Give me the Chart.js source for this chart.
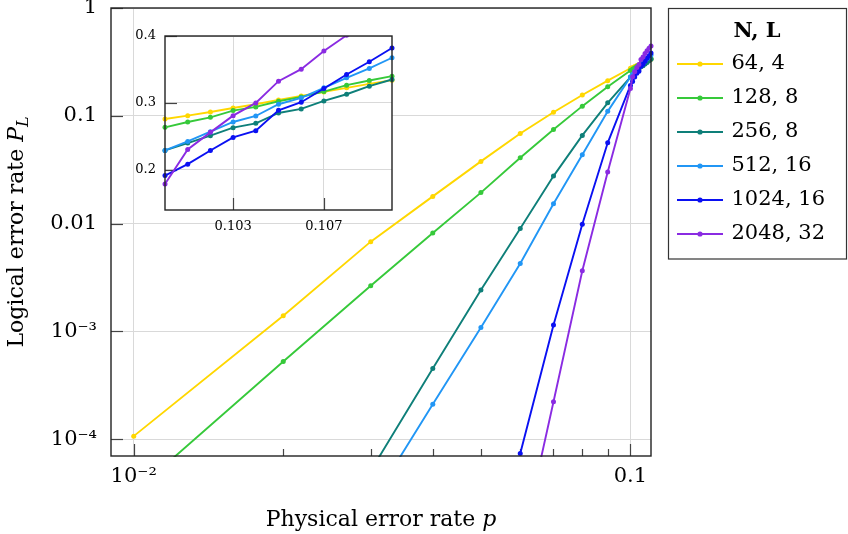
<!DOCTYPE html>
<html>
<head>
<meta charset="utf-8">
<script src="https://cdn.jsdelivr.net/npm/chart.js@4.4.1/dist/chart.umd.min.js"></script>
<style>
html,body{margin:0;padding:0;background:#fff;}
#wrap{position:relative;width:848px;height:534px;overflow:hidden;}
#main{position:absolute;left:0;top:0;}
#inset{position:absolute;left:120px;top:20px;}
</style>
</head>
<body>
<div id="wrap">
<canvas id="main" width="848" height="534"></canvas>
<canvas id="inset" width="290" height="225"></canvas>
</div>
<script>
// ---------------- DATA ----------------
const pValues = [0.01, 0.02, 0.03, 0.04, 0.05, 0.06, 0.07, 0.08, 0.09,
  0.100, 0.101, 0.102, 0.103, 0.104, 0.105, 0.106, 0.107, 0.108, 0.109, 0.110];

const seriesLabels = ['64, 4', '128, 8', '256, 8', '512, 16', '1024, 16', '2048, 32'];

const pl_64_4 = [1.07e-4, 1.40e-3, 6.81e-3, 0.0179, 0.0378, 0.0686, 0.108, 0.156, 0.212,
  0.276, 0.281, 0.2865, 0.2925, 0.298, 0.3045, 0.3105, 0.3165, 0.3225, 0.3285, 0.334];
const pl_128_8 = [3.2e-5, 5.27e-4, 2.65e-3, 8.2e-3, 0.0194, 0.0408, 0.0747, 0.123, 0.186,
  0.2635, 0.2715, 0.2785, 0.2885, 0.294, 0.3025, 0.309, 0.317, 0.3265, 0.3335, 0.340];
const pl_256_8 = [null, null, 5.1e-5, 4.54e-4, 2.43e-3, 9.0e-3, 0.0276, 0.0658, 0.132,
  0.229, 0.240, 0.251, 0.263, 0.2695, 0.285, 0.291, 0.303, 0.313, 0.325, 0.335];
const pl_512_16 = [null, null, 2.5e-5, 2.11e-4, 1.09e-3, 4.27e-3, 0.0153, 0.0435, 0.110,
  0.229, 0.2425, 0.257, 0.2715, 0.2805, 0.298, 0.3075, 0.3225, 0.3375, 0.3515, 0.3675];
const pl_1024_16 = [null, null, null, null, null, 7.4e-5, 1.15e-3, 9.86e-3, 0.0562,
  0.1915, 0.2085, 0.229, 0.2485, 0.2585, 0.289, 0.301, 0.3215, 0.3425, 0.3615, 0.382];
const pl_2048_32 = [null, null, null, null, null, 9e-6, 2.23e-4, 3.65e-3, 0.0301,
  0.179, 0.2305, 0.256, 0.281, 0.300, 0.3325, 0.3505, 0.3775, 0.401, 0.423, 0.445];

const xMajorTicks = [0.01, 0.1];
const xTickLabels = ['10\u207B\u00B2', '0.1'];
const xMinorTicks = [0.02, 0.03, 0.04, 0.05, 0.06, 0.07, 0.08, 0.09];
const yMajorTicks = [1e-4, 1e-3, 0.01, 0.1, 1];
const yTickLabels = ['10\u207B\u2074', '10\u207B\u00B3', '0.01', '0.1', '1'];

const insetXTicks = [0.103, 0.107];
const insetXLabels = ['0.103', '0.107'];
const insetYTicks = [0.2, 0.3, 0.4];
const insetYLabels = ['0.2', '0.3', '0.4'];
const insetStart = 9; // inset shows p = 0.100 ... 0.110

const legendTitle = 'N, L';
const xTitleParts = [{t: 'Physical error rate ', it: false}, {t: 'p', it: true}];
const yTitleParts = [{t: 'Logical error rate ', it: false}, {t: 'P', it: true}, {t: 'L', it: true, sub: true}];

// ---------------- STYLE ----------------
const SERIF = '"DejaVu Serif", "Liberation Serif", serif';
const seriesColors = ['#FFD700', '#36C93A', '#0E7F79', '#2196F5', '#0A10F2', '#8A2BE2'];
const gridColor = '#d9d9d9';
const allSeries = [pl_64_4, pl_128_8, pl_256_8, pl_512_16, pl_1024_16, pl_2048_32];

function legendImage(color) {
  const c = document.createElement('canvas');
  c.width = 46; c.height = 10;
  const g = c.getContext('2d');
  g.strokeStyle = color; g.lineWidth = 1.9;
  g.beginPath(); g.moveTo(0, 5); g.lineTo(46, 5); g.stroke();
  g.fillStyle = color;
  g.beginPath(); g.arc(23, 5, 2.6, 0, Math.PI * 2); g.fill();
  return c;
}
const legendImgs = seriesColors.map(legendImage);

function makeDatasets(startIdx, clip) {
  return allSeries.map((vals, i) => ({
    label: seriesLabels[i],
    data: pValues.slice(startIdx).map((p, j) => ({x: p, y: vals[startIdx + j]})),
    borderColor: seriesColors[i],
    backgroundColor: seriesColors[i],
    borderWidth: 1.9,
    pointRadius: 2.5,
    pointBorderWidth: 0,
    pointHoverRadius: 0,
    tension: 0,
    spanGaps: false,
    order: allSeries.length - i,
    clip: clip
  }));
}

function strokeTick(ctx, x1, y1, x2, y2) {
  ctx.beginPath(); ctx.moveTo(x1, y1); ctx.lineTo(x2, y2); ctx.stroke();
}

const frameAndTicks = {
  id: 'frameAndTicks',
  beforeDraw(chart, args, opts) {
    if (opts.fill) {
      const a = chart.chartArea, ctx = chart.ctx;
      ctx.save(); ctx.fillStyle = '#fff';
      ctx.fillRect(a.left, a.top, a.width, a.height);
      ctx.restore();
    }
  },
  beforeDatasetsDraw(chart, args, opts) {
    const {ctx, chartArea: a, scales: {x, y}} = chart;
    ctx.save();
    ctx.strokeStyle = '#444'; ctx.lineWidth = 1.2;
    y.ticks.forEach(t => {
      const py = Math.round(y.getPixelForValue(t.value)) + 0.5;
      strokeTick(ctx, a.left, py, a.left + opts.major, py);
    });
    x.ticks.forEach(t => {
      const px = Math.round(x.getPixelForValue(t.value)) + 0.5;
      strokeTick(ctx, px, a.bottom, px, a.bottom - opts.major);
    });
    (opts.minorX || []).forEach(v => {
      const px = Math.round(x.getPixelForValue(v)) + 0.5;
      strokeTick(ctx, px, a.bottom, px, a.bottom - opts.minor);
    });
    ctx.restore();
  },
  afterDatasetsDraw(chart) {
    const {ctx, chartArea: a} = chart;
    ctx.save();
    ctx.strokeStyle = '#222'; ctx.lineWidth = 1.4;
    ctx.strokeRect(a.left, a.top, a.width, a.height);
    ctx.restore();
  }
};

function drawRich(ctx, parts, cx, cy, size) {
  const fonts = parts.map(p => (p.it ? 'italic ' : '') + (p.sub ? Math.round(size * 0.72) : size) + 'px ' + SERIF);
  const widths = parts.map((p, i) => { ctx.font = fonts[i]; return ctx.measureText(p.t).width; });
  let x = cx - widths.reduce((s, w) => s + w, 0) / 2;
  parts.forEach((p, i) => {
    ctx.font = fonts[i];
    ctx.fillText(p.t, x, cy + (p.sub ? size * 0.22 : 0));
    x += widths[i];
  });
}

const axisTitles = {
  id: 'axisTitles',
  afterDraw(chart) {
    const {ctx, chartArea: a} = chart;
    ctx.save();
    ctx.fillStyle = '#000'; ctx.textBaseline = 'alphabetic'; ctx.textAlign = 'left';
    drawRich(ctx, xTitleParts, (a.left + a.right) / 2, 526, 22);
    ctx.translate(23, (a.top + a.bottom) / 2);
    ctx.rotate(-Math.PI / 2);
    drawRich(ctx, yTitleParts, 0, 0, 22);
    ctx.restore();
  }
};

const legendLayout = {
  id: 'legendLayout',
  beforeLayout(chart) {
    const lg = chart.legend;
    if (lg && !lg._wrappedFit) {
      const f = lg.fit;
      lg.fit = function () { f.call(this); this.width = 197; };
      lg._wrappedFit = true;
    }
  },
  afterLayout(chart) {
    const lg = chart.legend;
    lg.left = 666; lg.width = 182; lg.right = 848;
    lg.top = 8; lg.bottom = 526; lg.height = 518;
  },
  afterDraw(chart) {
    const lg = chart.legend, ctx = chart.ctx;
    const hb = lg.legendHitBoxes[lg.legendHitBoxes.length - 1];
    const bottom = hb.top + hb.height + 14;
    ctx.save();
    ctx.strokeStyle = '#333'; ctx.lineWidth = 1.2;
    ctx.strokeRect(lg.left + 2.5, lg.top + 0.5, 178, bottom - lg.top);
    ctx.restore();
  }
};

// ---------------- MAIN CHART ----------------
new Chart(document.getElementById('main'), {
  type: 'line',
  data: {datasets: makeDatasets(0, {left: 2, top: 3, right: 4, bottom: 1})},
  options: {
    responsive: false, animation: false, devicePixelRatio: 1, events: [],
    layout: {padding: {top: 8, left: 0, right: 0, bottom: 0}},
    scales: {
      x: {
        type: 'logarithmic', min: 0.009, max: 0.11,
        afterBuildTicks(s) { s.ticks = xMajorTicks.map(v => ({value: v})); },
        afterFit(s) { s.height = 78; s.paddingLeft = 0; s.paddingRight = 0; },
        ticks: {autoSkip: false, maxRotation: 0, padding: 8, color: '#000',
          font: {family: SERIF, size: 21}, callback: (v, i) => xTickLabels[i]},
        grid: {color: gridColor, lineWidth: 1, drawTicks: false},
        border: {display: false}
      },
      y: {
        type: 'logarithmic', min: 7e-5, max: 1,
        afterBuildTicks(s) { s.ticks = yMajorTicks.map(v => ({value: v})); },
        afterFit(s) { s.width = 111; s.paddingTop = 0; s.paddingBottom = 0; },
        ticks: {autoSkip: false, padding: 14, color: '#000',
          font: {family: SERIF, size: 21}, callback: (v, i) => yTickLabels[i]},
        grid: {color: gridColor, lineWidth: 1, drawTicks: false},
        border: {display: false}
      }
    },
    plugins: {
      tooltip: {enabled: false},
      frameAndTicks: {major: 12, minor: 7, minorX: xMinorTicks},
      legend: {
        position: 'right', align: 'start',
        title: {display: true, text: legendTitle, color: '#000',
          font: {family: SERIF, size: 21, weight: 'bold', lineHeight: 1},
          padding: {top: 13.5, bottom: -2}},
        labels: {
          usePointStyle: true, pointStyleWidth: 42, padding: 13, color: '#000',
          font: {family: SERIF, size: 21},
          generateLabels(chart) {
            const items = Chart.defaults.plugins.legend.labels.generateLabels(chart);
            items.sort((a, b) => a.datasetIndex - b.datasetIndex);
            items.forEach(it => { it.pointStyle = legendImgs[it.datasetIndex]; });
            return items;
          }
        }
      }
    }
  },
  plugins: [frameAndTicks, axisTitles, legendLayout]
});

// ---------------- INSET CHART ----------------
new Chart(document.getElementById('inset'), {
  type: 'line',
  data: {datasets: makeDatasets(insetStart, {left: 4, top: 0, right: 4, bottom: 0})},
  options: {
    responsive: false, animation: false, devicePixelRatio: 1, events: [],
    layout: {padding: {top: 16, left: 0, right: 18, bottom: 0}},
    scales: {
      x: {
        type: 'linear', min: 0.1, max: 0.11,
        afterBuildTicks(s) { s.ticks = insetXTicks.map(v => ({value: v})); },
        afterFit(s) { s.height = 35; s.paddingLeft = 0; s.paddingRight = 0; },
        ticks: {autoSkip: false, maxRotation: 0, padding: 9, color: '#000',
          font: {family: SERIF, size: 13}, callback: (v, i) => insetXLabels[i]},
        grid: {color: gridColor, lineWidth: 1, drawTicks: false},
        border: {display: false}
      },
      y: {
        type: 'linear', min: 0.14, max: 0.4,
        afterBuildTicks(s) { s.ticks = insetYTicks.map(v => ({value: v})); },
        afterFit(s) { s.width = 45; s.paddingTop = 0; s.paddingBottom = 0; },
        ticks: {autoSkip: false, padding: 9, color: '#000',
          font: {family: SERIF, size: 13}, callback: (v, i) => insetYLabels[i]},
        grid: {color: gridColor, lineWidth: 1, drawTicks: false},
        border: {display: false}
      }
    },
    plugins: {
      tooltip: {enabled: false},
      legend: {display: false},
      frameAndTicks: {major: 12, minor: 7, fill: true}
    }
  },
  plugins: [frameAndTicks]
});
</script>
</body>
</html>
